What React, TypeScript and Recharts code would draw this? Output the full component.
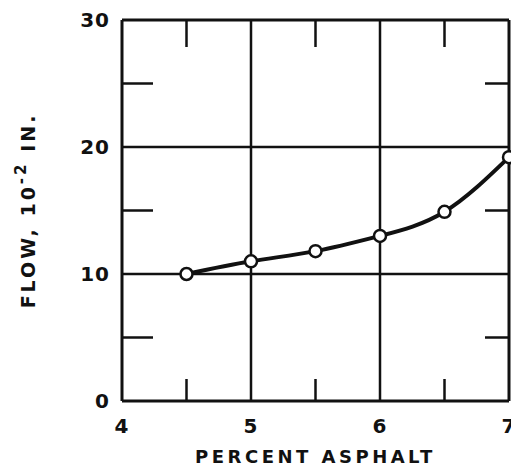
import { LineChart, Line, XAxis, YAxis, ReferenceLine, Label } from "recharts";

// readings
const percentAsphalt = [4.5, 5, 5.5, 6, 6.5, 7];
const flow = [10, 11, 11.8, 13, 14.9, 19.2];

const xTicks = [4, 5, 6, 7];
const yTicks = [0, 10, 20, 30];
const xGrid = [5, 6];
const yGrid = [10, 20];
const xMinor = [4.5, 5.5, 6.5];
const yMinor = [5, 15, 25];

const data = percentAsphalt.map((x, i) => ({ x, flow: flow[i] }));

const INK = "#111";
const FONT = "'DejaVu Sans', sans-serif";

// short inward ticks, drawn from the two ends of a full reference line
const vTick = (props: any) => {
  const top = Math.min(props.y1, props.y2);
  const bot = Math.max(props.y1, props.y2);
  return (
    <g>
      <line x1={props.x1} x2={props.x1} y1={top} y2={top + 27} stroke={INK} strokeWidth={2.5} />
      <line x1={props.x1} x2={props.x1} y1={bot} y2={bot - 22} stroke={INK} strokeWidth={2.5} />
    </g>
  );
};

const hTick = (props: any) => {
  const left = Math.min(props.x1, props.x2);
  const right = Math.max(props.x1, props.x2);
  return (
    <g>
      <line y1={props.y1} y2={props.y1} x1={left} x2={left + 31} stroke={INK} strokeWidth={2.5} />
      <line y1={props.y1} y2={props.y1} x1={right} x2={right - 24} stroke={INK} strokeWidth={2.5} />
    </g>
  );
};

const Dot = (props: any) => {
  const { cx, cy } = props;
  if (cx == null || cy == null) return null;
  return <circle cx={cx} cy={cy} r={6} fill="#fff" stroke={INK} strokeWidth={2.5} />;
};

const YLabel = (props: any) => {
  const vb = props.viewBox;
  const x = vb.x + 28;
  const y = vb.y + vb.height / 2;
  return (
    <text
      x={x}
      y={y}
      transform={`rotate(-90 ${x} ${y})`}
      textAnchor="middle"
      dominantBaseline="central"
      fontFamily={FONT}
      fontWeight="bold"
      fontSize={19}
      letterSpacing={3}
      fill={INK}
    >
      FLOW, 10
      <tspan fontSize={15} dy={-7}>-2</tspan>
      <tspan dy={7}> IN.</tspan>
    </text>
  );
};

export default function App() {
  const tickStyle = { fontFamily: FONT, fontWeight: "bold", fontSize: 20, letterSpacing: 1, fill: INK };
  return (
    <div style={{ position: "fixed", left: 0, top: 0, background: "#fff" }}>
      <LineChart width={511} height={470} data={data} margin={{ top: 20, right: 2, bottom: 0, left: 0 }}>
        <XAxis
          dataKey="x"
          type="number"
          domain={[4, 7]}
          ticks={xTicks}
          interval={0}
          axisLine={false}
          tickLine={false}
          tickSize={0}
          tickMargin={18}
          height={69}
          tick={tickStyle}
        >
          <Label
            value="PERCENT ASPHALT"
            position="insideBottom"
            offset={7}
            style={{ fontFamily: FONT, fontWeight: "bold", fontSize: 18, letterSpacing: 3.5, fill: INK }}
          />
        </XAxis>
        <YAxis
          type="number"
          domain={[0, 30]}
          ticks={yTicks}
          interval={0}
          axisLine={false}
          tickLine={false}
          tickSize={0}
          tickMargin={12}
          width={122}
          tick={tickStyle}
        >
          <Label content={YLabel} />
        </YAxis>

        {xGrid.map((v) => (
          <ReferenceLine key={"gx" + v} x={v} stroke={INK} strokeWidth={2.5} />
        ))}
        {yGrid.map((v) => (
          <ReferenceLine key={"gy" + v} y={v} stroke={INK} strokeWidth={2.5} />
        ))}
        {xMinor.map((v) => (
          <ReferenceLine key={"mx" + v} x={v} shape={vTick} />
        ))}
        {yMinor.map((v) => (
          <ReferenceLine key={"my" + v} y={v} shape={hTick} />
        ))}
        <ReferenceLine x={4} stroke={INK} strokeWidth={3} />
        <ReferenceLine x={7} stroke={INK} strokeWidth={3} />
        <ReferenceLine y={0} stroke={INK} strokeWidth={3} />
        <ReferenceLine y={30} stroke={INK} strokeWidth={3} />

        <Line
          type="natural"
          dataKey="flow"
          stroke={INK}
          strokeWidth={4}
          dot={<Dot />}
          activeDot={false}
          isAnimationActive={false}
        />
      </LineChart>
    </div>
  );
}
